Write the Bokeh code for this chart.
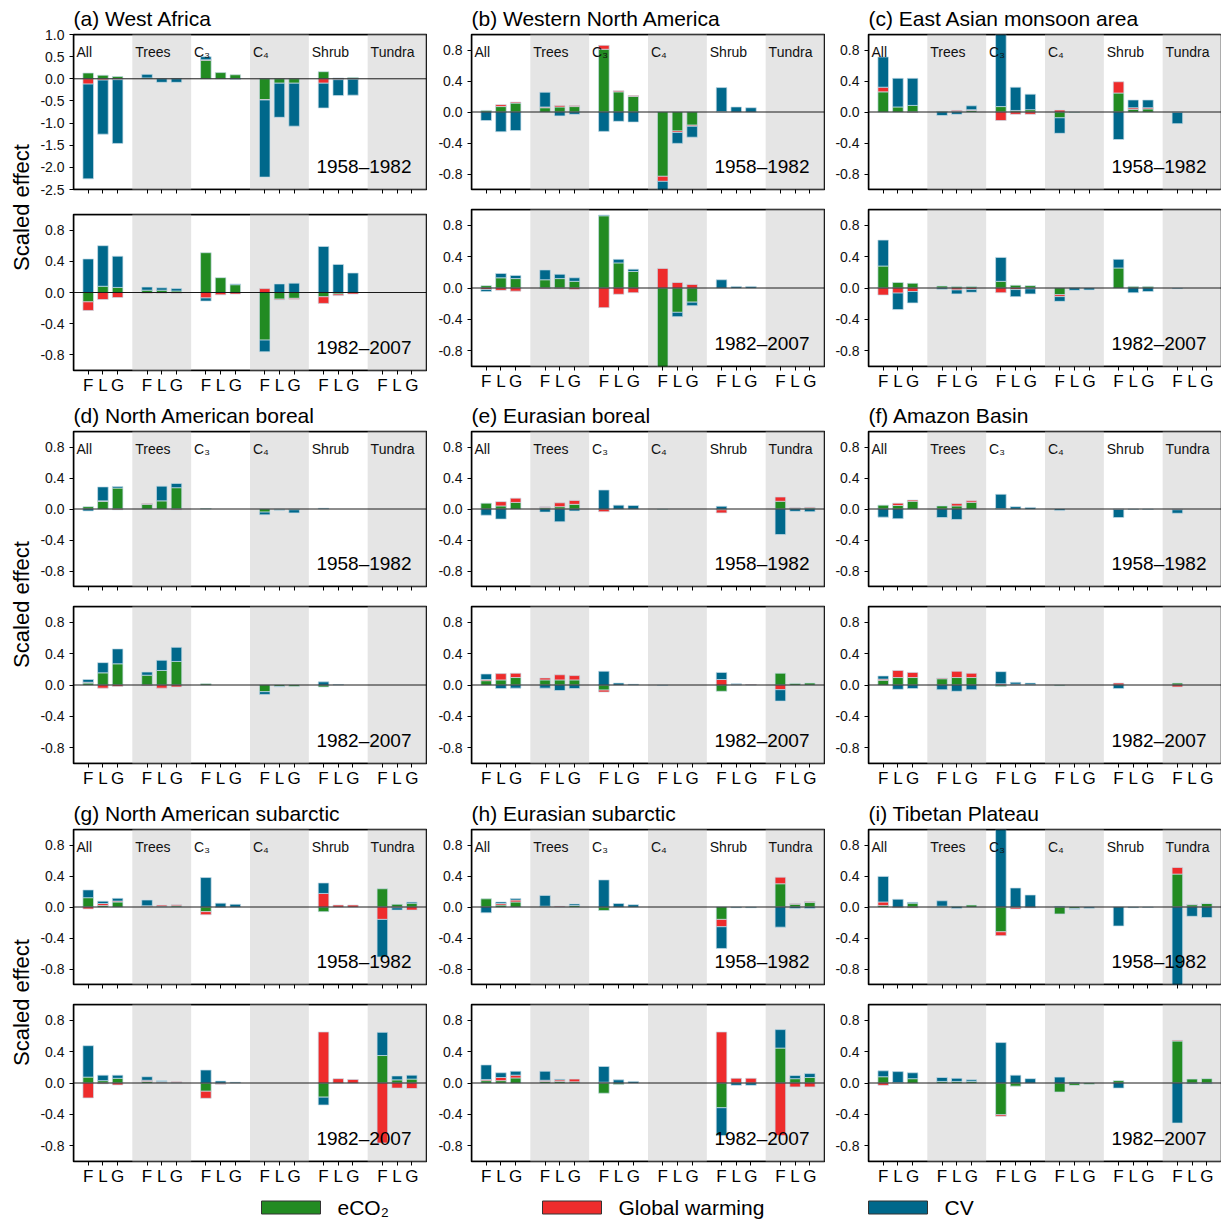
import math
import numpy as np
from bokeh.plotting import figure
from bokeh.models import ColumnDataSource, FixedTicker, PrintfTickFormatter, Span, Label, Range1d, BoxAnnotation
from bokeh.layouts import row, column
from bokeh.embed import file_html
from bokeh.resources import INLINE
from bokeh.core.properties import value

# ---------------- categories / labels ----------------
GROUPS = ["All", "Trees", "C₃", "C₄", "Shrub", "Tundra"]
BARS = ["F", "L", "G"]
PERIODS = ["1958–1982", "1982–2007"]
REGIONS = ["(a) West Africa", "(b) Western North America", "(c) East Asian monsoon area",
           "(d) North American boreal", "(e) Eurasian boreal", "(f) Amazon Basin",
           "(g) North American subarctic", "(h) Eurasian subarctic", "(i) Tibetan Plateau"]
DRIVERS = ["eCO₂", "Global warming", "CV"]
COLORS = ["#228b22", "#ee2c2c", "#00688b"]
YLABEL = "Scaled effect"

# ---------------- data (order: All F L G, Trees F L G, C3, C4, Shrub, Tundra) ----------------
A1_CO2 = [0.13, 0.08, 0.05, 0.02, 0.0, 0.01, 0.42, 0.14, 0.09, -0.47, -0.10, -0.10, 0.16, 0.02, 0.03, 0, 0, 0]
A1_GW = [-0.12, -0.03, -0.02, 0, 0, 0, 0.01, 0, 0, -0.01, 0, 0, -0.10, -0.02, -0.01, 0, 0, 0]
A1_CV = [-2.14, -1.22, -1.44, 0.08, -0.08, -0.08, 0.07, 0, -0.01, -1.74, -0.77, -0.97, -0.56, -0.36, -0.36, 0, 0, 0]
A2_CO2 = [-0.12, 0.08, 0.065, 0.03, 0.03, 0.02, 0.51, 0.19, 0.10, -0.61, -0.085, -0.075, -0.055, -0.02, 0, 0, 0, 0]
A2_GW = [-0.11, -0.09, -0.065, -0.01, -0.01, -0.01, -0.07, -0.03, -0.02, 0.05, -0.01, -0.01, -0.085, -0.02, -0.02, 0, 0, 0]
A2_CV = [0.43, 0.52, 0.40, 0.04, 0.03, 0.03, -0.04, 0, 0.01, -0.15, 0.11, 0.12, 0.59, 0.36, 0.25, 0, 0, 0]

B1_CO2 = [0.02, 0.07, 0.115, 0.055, 0.065, 0.07, 0.81, 0.26, 0.20, -0.83, -0.245, -0.17, 0.005, 0, 0, 0, 0, 0]
B1_GW = [0, 0.025, 0.013, 0.01, 0.02, 0.013, 0.05, 0.015, 0.012, -0.065, -0.02, -0.015, 0, 0, 0, 0, 0, 0]
B1_CV = [-0.11, -0.255, -0.24, 0.19, -0.05, -0.03, -0.25, -0.12, -0.13, -0.12, -0.14, -0.14, 0.31, 0.065, 0.055, 0, 0, 0]
B2_CO2 = [0.03, 0.13, 0.12, 0.105, 0.12, 0.085, 0.92, 0.32, 0.21, -1.05, -0.31, -0.18, 0, 0, 0, 0, 0, 0]
B2_GW = [-0.02, -0.03, -0.04, -0.01, -0.01, -0.02, -0.25, -0.08, -0.06, 0.25, 0.07, 0.045, 0, 0, 0, 0, 0, 0]
B2_CV = [-0.025, 0.055, 0.04, 0.125, 0.055, 0.045, 0.01, 0.045, 0.03, 0, -0.055, -0.045, 0.105, 0.02, 0.02, 0, 0, 0]

C1_CO2 = [0.26, 0.065, 0.085, 0.01, 0.01, 0.02, 0.07, 0.02, 0.03, -0.075, -0.005, 0, 0.245, 0.035, 0.04, 0, 0, 0]
C1_GW = [0.06, 0, -0.005, 0, 0.012, 0.01, -0.11, -0.03, -0.03, 0.025, 0, 0, 0.145, 0.02, 0.015, -0.005, 0, 0]
C1_CV = [0.39, 0.37, 0.35, -0.045, -0.03, 0.05, 1.05, 0.30, 0.20, -0.20, 0, 0, -0.355, 0.10, 0.10, -0.145, 0, 0]
C2_CO2 = [0.28, 0.07, 0.06, 0.025, 0.02, 0.02, 0.085, 0.035, 0.03, -0.085, 0.005, 0, 0.255, 0.02, 0.02, 0, 0, 0]
C2_GW = [-0.09, -0.065, -0.045, 0, -0.025, -0.02, -0.06, -0.02, -0.01, -0.025, 0, 0, 0, 0, 0, 0, 0, 0]
C2_CV = [0.33, -0.21, -0.145, -0.015, -0.05, -0.035, 0.305, -0.09, -0.065, -0.06, -0.03, -0.025, 0.11, -0.06, -0.045, -0.01, 0, 0]

D1_CO2 = [0.03, 0.10, 0.27, 0.06, 0.105, 0.275, 0.005, 0, 0, -0.04, -0.01, -0.01, 0, 0, 0, 0, 0, 0]
D1_GW = [0, 0.005, -0.01, 0.01, 0, -0.01, 0, 0, 0, 0, 0, 0, 0, 0, 0, 0, 0, 0]
D1_CV = [-0.025, 0.18, 0.02, 0, 0.19, 0.055, 0, 0, 0, -0.035, -0.005, -0.04, 0.01, 0, 0, 0, 0, 0]
D2_CO2 = [0.025, 0.155, 0.27, 0.125, 0.185, 0.30, 0.015, 0, 0, -0.085, -0.02, -0.02, -0.025, 0, 0, 0, 0, 0]
D2_GW = [0.01, -0.04, -0.02, -0.01, -0.04, -0.025, 0, 0, 0, 0, 0, 0, 0, 0, 0, 0, 0, 0]
D2_CV = [0.035, 0.13, 0.19, 0.04, 0.13, 0.18, 0, 0, 0, -0.035, -0.005, 0, 0.04, 0.005, 0, 0, 0, 0]

E1_CO2 = [0.075, 0.04, 0.085, 0.02, 0.03, 0.06, 0, 0, 0, -0.005, 0, 0, -0.01, 0, 0, 0.10, 0.01, 0.015]
E1_GW = [0, 0.055, 0.055, 0.01, 0.05, 0.05, -0.035, 0, 0, 0, 0, 0, -0.04, 0, 0, 0.055, 0.005, 0.01]
E1_CV = [-0.08, -0.13, 0, -0.04, -0.165, -0.025, 0.245, 0.05, 0.045, 0, 0, 0, 0.035, 0, 0, -0.33, -0.03, -0.035]
E2_CO2 = [0.055, 0.065, 0.095, 0.065, 0.065, 0.065, -0.065, 0, 0, 0, 0, 0, -0.08, 0, 0, 0.15, 0.02, 0.025]
E2_GW = [0.015, 0.08, 0.055, 0.025, 0.065, 0.055, -0.025, 0, 0, 0, 0, 0, 0.07, 0.005, 0.005, -0.06, 0, 0]
E2_CV = [0.07, -0.045, -0.04, -0.04, -0.07, -0.045, 0.175, 0.025, 0.01, -0.005, 0, 0, 0.09, 0.01, 0, -0.145, 0, 0]

F1_CO2 = [0.05, 0.045, 0.10, 0.04, 0.04, 0.085, 0.005, 0, 0, 0, 0, 0, 0, 0, 0, 0, 0, 0]
F1_GW = [0, 0.03, 0.015, 0, 0.03, 0.02, 0, 0, 0, 0, 0, 0, -0.005, 0, 0, -0.01, 0, 0]
F1_CV = [-0.105, -0.125, 0, -0.11, -0.135, 0, 0.185, 0.03, 0.02, -0.02, 0, 0, -0.105, -0.005, -0.005, -0.045, 0, 0]
F2_CO2 = [0.06, 0.095, 0.095, 0.08, 0.095, 0.095, -0.02, 0, 0, -0.01, 0, 0, 0, 0, 0, 0.025, 0, 0]
F2_GW = [0.015, 0.09, 0.065, 0.01, 0.08, 0.055, 0.015, 0.01, 0.005, 0, 0, 0, 0.025, 0, 0, -0.025, 0, 0]
F2_CV = [0.04, -0.055, -0.045, -0.06, -0.08, -0.06, 0.155, 0.025, 0.02, 0, 0, 0, -0.045, 0, 0, 0, 0, 0]

G1_CO2 = [0.12, 0.02, 0.065, 0.01, 0.01, 0.015, -0.06, 0, 0, 0, 0, 0, -0.06, 0, 0, 0.235, 0.035, 0.05]
G1_GW = [-0.025, 0.025, 0.012, 0.005, 0.015, 0.015, -0.04, -0.005, 0, 0, 0, 0, 0.175, 0.025, 0.025, -0.16, -0.01, -0.04]
G1_CV = [0.10, 0.03, 0.035, 0.075, 0, 0, 0.38, 0.05, 0.035, 0, 0, 0, 0.135, 0, 0, -0.485, -0.03, 0.015]
G2_CO2 = [0.075, 0.03, 0.06, 0.02, 0.01, 0.005, -0.105, -0.005, 0, 0, 0, 0, -0.18, 0, 0, 0.35, 0.04, 0.05]
G2_GW = [-0.19, -0.01, -0.025, 0.015, 0.01, 0.01, -0.09, -0.01, 0, 0, 0, 0, 0.65, 0.055, 0.045, -0.765, -0.065, -0.07]
G2_CV = [0.40, 0.07, 0.04, 0.045, 0.01, 0, 0.165, 0.025, 0.01, 0, 0, 0, -0.10, 0, 0, 0.295, 0.05, 0.05]

H1_CO2 = [0.105, 0.025, 0.065, 0.01, 0, 0.02, -0.045, 0, 0, 0, 0, 0, -0.16, 0, 0, 0.30, 0.035, 0.06]
H1_GW = [0, 0.02, 0.025, 0, 0.01, 0, 0, 0, 0, 0, 0, 0, -0.095, 0, 0, 0.085, 0.01, 0.01]
H1_CV = [-0.075, 0.02, 0.02, 0.14, 0, 0.02, 0.35, 0.045, 0.03, 0, 0, 0, -0.28, -0.01, -0.01, -0.26, -0.02, -0.02]
H2_CO2 = [0.03, 0.03, 0.065, 0.02, 0.02, 0.015, -0.13, -0.02, 0, 0, 0, 0, -0.315, 0, 0, 0.445, 0.055, 0.07]
H2_GW = [0.015, 0.04, 0.035, 0.015, 0.02, 0.035, 0.01, 0, 0, 0, 0, 0, 0.65, 0.06, 0.06, -0.67, -0.05, -0.05]
H2_CV = [0.185, 0.06, 0.05, 0.115, 0.01, 0, 0.20, 0.04, 0.02, 0, 0, 0, -0.355, -0.03, -0.03, 0.235, 0.04, 0.05]

I1_CO2 = [0.02, 0, 0.05, 0.01, 0.01, 0.025, -0.32, -0.005, 0, -0.09, -0.02, 0, 0, 0, 0, 0.425, 0.03, 0.045]
I1_GW = [0.045, -0.01, -0.01, 0, 0, 0, -0.05, -0.02, -0.01, 0, 0, 0, 0, 0, 0, 0.085, 0.005, 0.005]
I1_CV = [0.33, 0.10, 0.01, 0.07, -0.02, 0, 1.05, 0.245, 0.155, 0.01, -0.01, -0.015, -0.245, -0.01, -0.005, -1.05, -0.12, -0.135]
I2_CO2 = [0.08, 0.005, 0.055, 0.02, 0.02, 0.02, -0.405, -0.04, 0, -0.115, -0.03, -0.015, 0.03, 0, 0, 0.535, 0.05, 0.055]
I2_GW = [-0.03, 0, 0, 0, 0, 0, -0.02, 0, 0, 0, 0, 0, 0, 0, 0, 0.01, 0, 0]
I2_CV = [0.075, 0.14, 0.075, 0.05, 0.04, 0.02, 0.515, 0.10, 0.055, 0.075, 0.01, 0, -0.065, 0, 0, -0.51, -0.01, -0.01]

PANEL_DATA = [
    [(A1_CO2, A1_GW, A1_CV), (A2_CO2, A2_GW, A2_CV)],
    [(B1_CO2, B1_GW, B1_CV), (B2_CO2, B2_GW, B2_CV)],
    [(C1_CO2, C1_GW, C1_CV), (C2_CO2, C2_GW, C2_CV)],
    [(D1_CO2, D1_GW, D1_CV), (D2_CO2, D2_GW, D2_CV)],
    [(E1_CO2, E1_GW, E1_CV), (E2_CO2, E2_GW, E2_CV)],
    [(F1_CO2, F1_GW, F1_CV), (F2_CO2, F2_GW, F2_CV)],
    [(G1_CO2, G1_GW, G1_CV), (G2_CO2, G2_GW, G2_CV)],
    [(H1_CO2, H1_GW, H1_CV), (H2_CO2, H2_GW, H2_CV)],
    [(I1_CO2, I1_GW, I1_CV), (I2_CO2, I2_GW, I2_CV)],
]

FONT = "Liberation Sans"
FRAME_W = 353
FRAME_H = 157
TOP_BORDER = 32
MID_BORDER = 10
LEFT_BORDERS = [37, 44, 43]
RIGHT_BORDERS = [1, 1, 0]
ROW_BOTTOM = [31, 32, 28]
LABEL_W = 36
XS = [4 * g + 1 + b for g in range(len(GROUPS)) for b in range(len(BARS))]
XLAB = {x: BARS[i % 3] for i, x in enumerate(XS)}


def stack(series):
    pos = np.zeros(len(XS))
    neg = np.zeros(len(XS))
    out = []
    for s in series:
        s = np.asarray(s, dtype=float)
        bottom = np.where(s >= 0, pos, neg)
        top = bottom + s
        pos = np.where(s >= 0, top, pos)
        neg = np.where(s < 0, top, neg)
        out.append((bottom, top, s != 0))
    return out


def make_panel(ri, period, col, top, bottom):
    is_top = period == 0
    if ri == 0 and is_top:
        ylo, yhi = -2.5, 1.0
        yticks = [1.0, 0.5, 0.0, -0.5, -1.0, -1.5, -2.0, -2.5]
    else:
        ylo, yhi = -1.0, 1.0
        yticks = [-0.8, -0.4, 0.0, 0.4, 0.8]
    upy = (yhi - ylo) / FRAME_H
    upx = 24.0 / FRAME_W
    left = LEFT_BORDERS[col]
    right = RIGHT_BORDERS[col]
    p = figure(width=left + FRAME_W + right, height=top + FRAME_H + bottom,
               x_range=Range1d(0, 24), y_range=Range1d(ylo, yhi),
               output_backend="svg", toolbar_location=None, tools="",
               min_border_left=left, min_border_right=right,
               min_border_top=top, min_border_bottom=bottom,
               title=REGIONS[ri] if is_top else None)
    if is_top:
        p.title.text_font_size = "21px"
        p.title.text_font = FONT
        p.title.text_font_style = "normal"
        p.title.text_color = "black"
        p.title.align = "left"
        p.title.offset = 0
        p.title.standoff = 9
    p.xgrid.visible = False
    p.ygrid.visible = False
    p.outline_line_color = "black"
    p.outline_line_width = 1.5
    p.background_fill_color = "white"

    odd = [g for g in range(len(GROUPS)) if g % 2 == 1]
    p.quad(left=[4 * g for g in odd], right=[4 * g + 4 for g in odd],
           bottom=ylo - 1, top=yhi + 1, fill_color="#e5e5e5", line_color=None)

    for (b, t, m), color in zip(stack(PANEL_DATA[ri][period]), COLORS):
        src = ColumnDataSource(dict(x=np.array(XS)[m], bottom=b[m], top=t[m]))
        p.vbar(x="x", bottom="bottom", top="top", width=0.72, source=src,
               fill_color=color, line_color="#c9dde8", line_width=0.7)

    p.add_layout(Span(location=0, dimension="width", line_color="#1a1a1a", line_width=1))
    # frame border drawn above the glyphs
    p.add_layout(BoxAnnotation(left=0, right=24, bottom=ylo, top=yhi, fill_alpha=0,
                               fill_color=None, line_color="black", line_width=1.5, line_alpha=1))

    p.xaxis.ticker = FixedTicker(ticks=XS)
    p.xaxis.axis_line_color = None
    p.xaxis.minor_tick_line_color = None
    p.xaxis.major_tick_in = 0
    p.xaxis.major_tick_out = 4
    p.xaxis.major_tick_line_color = "black"
    if is_top:
        p.xaxis.major_label_overrides = {x: "" for x in XS}
        p.xaxis.major_label_text_font_size = "0px"
        p.xaxis.major_label_standoff = 0
    else:
        p.xaxis.major_label_overrides = XLAB
        p.xaxis.major_label_text_font_size = "17px"
        p.xaxis.major_label_text_font = FONT
        p.xaxis.major_label_text_color = "black"
        p.xaxis.major_label_standoff = 1

    p.yaxis.ticker = FixedTicker(ticks=yticks)
    p.yaxis.formatter = PrintfTickFormatter(format="%.1f")
    p.yaxis.axis_line_color = None
    p.yaxis.minor_tick_line_color = None
    p.yaxis.major_tick_in = 0
    p.yaxis.major_tick_out = 4
    p.yaxis.major_tick_line_color = "black"
    p.yaxis.major_label_text_font_size = "14px"
    p.yaxis.major_label_text_font = FONT
    p.yaxis.major_label_text_color = "#111111"
    p.yaxis.major_label_standoff = 5

    p.add_layout(Label(x=24 - 15 * upx, y=ylo + 23 * upy, text=PERIODS[period],
                       text_align="right", text_baseline="alphabetic",
                       text_font_size="19px", text_font=FONT, text_color="black"))

    if is_top:
        p.text(x=[4 * g + 0.2 for g in range(len(GROUPS))], y=[yhi - 18 * upy] * len(GROUPS),
               text=GROUPS, text_font=value(FONT), text_font_size="14px",
               text_baseline="alphabetic", text_align="left", text_color="#111111")
    return p


def make_ylabel_fig(h):
    f = figure(width=LABEL_W, height=h, x_range=Range1d(0, LABEL_W), y_range=Range1d(0, h),
               output_backend="svg", toolbar_location=None, tools="",
               min_border_left=0, min_border_right=0, min_border_top=0, min_border_bottom=0,
               x_axis_type=None, y_axis_type=None)
    f.xgrid.visible = False
    f.ygrid.visible = False
    f.outline_line_color = None
    yc = h - (TOP_BORDER + FRAME_H + 18)
    f.text(x=[21], y=[yc], text=[YLABEL], angle=math.pi / 2, text_align="center",
           text_baseline="middle", text_font=value(FONT), text_font_size="22px",
           text_color="black")
    return f


rows = []
for r in range(3):
    bb = ROW_BOTTOM[r]
    cols = []
    for c in range(3):
        ri = r * 3 + c
        # panel (a): lower panel sits a few pixels lower, as in the original figure
        shift = 5 if ri == 0 else 0
        top_fig = make_panel(ri, 0, c, TOP_BORDER, MID_BORDER)
        bot_fig = make_panel(ri, 1, c, MID_BORDER + shift, bb - shift)
        colfig = column(top_fig, bot_fig, spacing=0)
        if c == 0:
            h = (TOP_BORDER + FRAME_H + MID_BORDER) + (MID_BORDER + FRAME_H + bb)
            cols.append(row(make_ylabel_fig(h), colfig, spacing=0))
        else:
            cols.append(colfig)
    rows.append(row(*cols, spacing=0))

# legend
LW = 1221
LH = 31
leg = figure(width=LW, height=LH, x_range=Range1d(0, LW), y_range=Range1d(0, LH),
             output_backend="svg", toolbar_location=None, tools="",
             min_border_left=0, min_border_right=0, min_border_top=0, min_border_bottom=0,
             x_axis_type=None, y_axis_type=None)
leg.xgrid.visible = False
leg.ygrid.visible = False
leg.outline_line_color = None
box_left = [261, 542, 868]
leg.quad(left=box_left, right=[b + 59 for b in box_left], bottom=6.5, top=19.5,
         fill_color=COLORS, line_color="#333333", line_width=1)
leg.text(x=[b + 59 + 17 for b in box_left], y=[13] * 3, text=DRIVERS,
         text_font=value(FONT), text_font_size="21px", text_baseline="middle",
         text_align="left", text_color="black")

layout = column(*rows, leg, spacing=0)
open("out.html", "w").write(file_html(layout, INLINE))
